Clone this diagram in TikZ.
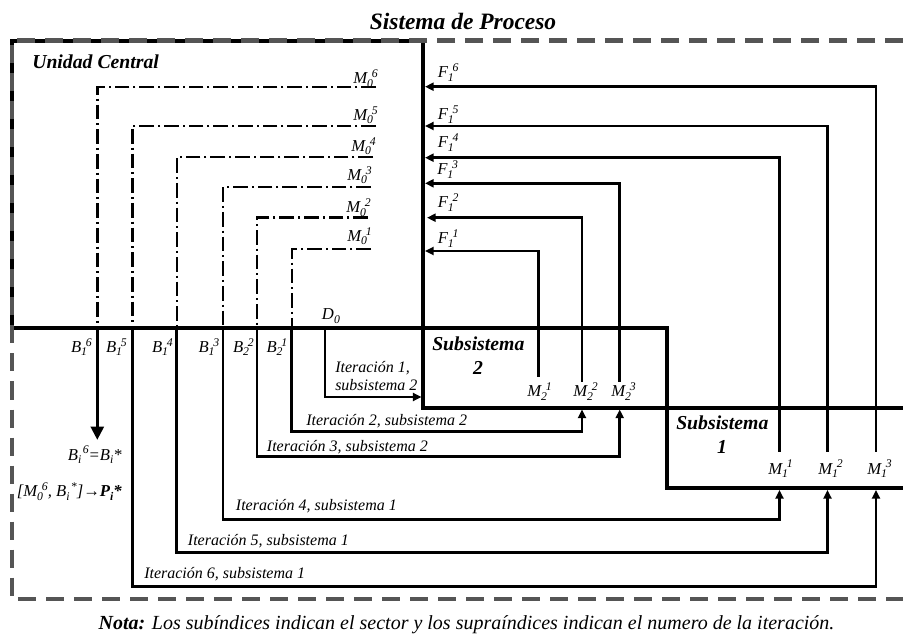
\documentclass[tikz,border=0pt]{standalone}
\usepackage{fontspec}
\setmainfont{Liberation Serif}
\usetikzlibrary{arrows.meta}
\definecolor{boundgray}{HTML}{555555}
% small script size for sub- and superscripts
\newcommand{\scrfont}{\fontsize{8.8pt}{9pt}\selectfont}
% stacked subscript / superscript
\newcommand{\ix}[2]{\rlap{\raisebox{-0.45ex}{\scrfont #1}}\kern0.28em\raisebox{0.8ex}{\scrfont #2}}
% subscript only
\newcommand{\lo}[1]{\raisebox{-0.45ex}{\scrfont #1}}

\begin{document}
\begin{tikzpicture}[x=0.75pt,y=-0.75pt,
  lbl/.style={inner sep=0pt,font=\fontsize{12.5pt}{14pt}\selectfont\itshape},
  itlbl/.style={inner sep=0pt,font=\fontsize{12pt}{14pt}\selectfont\itshape},
  hdr/.style={inner sep=0pt,font=\fontsize{14.8pt}{17pt}\selectfont\bfseries\itshape},
  wall/.style={line width=3pt},
  flow/.style={line width=2pt},
  mline/.style={line width=1.8pt,dash pattern=on 11pt off 3pt on 1.5pt off 3pt},
  sysbound/.style={draw=boundgray,line width=3.2pt,dash pattern=on 13.5pt off 7.5pt},
  flowtip/.style={-{Triangle[length=6.5pt,width=6pt]}},
  bigflowtip/.style={-{Triangle[length=10pt,width=9.5pt]}},
]
\path[use as bounding box] (0,0) rectangle (903,634);

% ---------- box corners ----------
\coordinate (ucTL) at (12,41.5);
\coordinate (ucTR) at (423,41.5);
\coordinate (ucBL) at (12,328);
\coordinate (s2TR) at (666.7,328);
\coordinate (s2BR) at (666.7,488);
\coordinate (s1BR) at (903,488);
\coordinate (s2BL) at (423,408);
\coordinate (s1TR) at (903,408);

% Unidad Central and the two subsystems
\draw[wall] (ucBL) -- (ucTL) -- (ucTR);
\draw[wall] (ucBL) -- (s2TR) -- (s2BR) -- (s1BR);
\draw[wall] (ucTR) -- (s2BL) -- (s1TR);

% Process system boundary
\coordinate (sbTR) at (903,40.5);
\coordinate (sbTL) at (12,40.5);
\coordinate (sbBL) at (12,599.3);
\coordinate (sbBR) at (903,599.3);
\draw[sysbound] (sbTR) -- (sbTL) -- (sbBL) -- (sbBR);

% ---------- master variables M0^k (dash-dot) ----------
\foreach \k/\x/\y/\r in {6/97.3/87.3/376, 5/132.3/126/376, 4/176.7/157.3/373,
                         3/223/187.3/371, 2/257/217.7/368, 1/291.7/249.3/371}{
  \coordinate (m0e\k) at (\r,\y);
  \coordinate (m0c\k) at (\x,\y);
  \coordinate (bt\k) at (\x,328);
  \draw[mline] (m0e\k) -- (m0c\k) -- (bt\k);
}

% ---------- iterations going to the subsystems ----------
\coordinate (d0) at (325,328);
\coordinate (s2in) at (421.5,397);
\draw[flow,flowtip] (d0) |- (s2in);

\coordinate (m22in) at (582,409.5);
\coordinate (m23in) at (619.7,409.5);
\coordinate (m11in) at (779.5,490);
\coordinate (m12in) at (827.5,490);
\coordinate (m13in) at (876,490);
\coordinate (it2k) at (582,431.7);
\coordinate (it3k) at (619.7,456.7);
\coordinate (it4k) at (779.5,519.3);
\coordinate (it5k) at (827.5,552.3);
\coordinate (it6k) at (876,586.7);
\draw[flow,flowtip] (bt1) |- (it2k) -- (m22in);
\draw[flow,flowtip] (bt2) |- (it3k) -- (m23in);
\draw[flow,flowtip] (bt3) |- (it4k) -- (m11in);
\draw[flow,flowtip] (bt4) |- (it5k) -- (m12in);
\draw[flow,flowtip] (bt5) |- (it6k) -- (m13in);

% final result
\coordinate (bstar) at (97.3,440);
\draw[line width=2.5pt,bigflowtip] (bt6) -- (bstar);

% ---------- feedback F1^k back to the central unit ----------
\coordinate (m21top) at (538.3,377);
\coordinate (m22top) at (582,382);
\coordinate (m23top) at (619.7,382);
\coordinate (m11top) at (779.5,451.7);
\coordinate (m12top) at (827.5,451.7);
\coordinate (m13top) at (876,451.7);
\coordinate (f1in) at (425,251);
\coordinate (f2in) at (427,217.7);
\coordinate (f3in) at (425,183.3);
\coordinate (f4in) at (425,157.7);
\coordinate (f5in) at (425,126);
\coordinate (f6in) at (425,86.7);
\draw[flow,flowtip] (m21top) |- (f1in);
\draw[flow,flowtip] (m22top) |- (f2in);
\draw[flow,flowtip] (m23top) |- (f3in);
\draw[flow,flowtip] (m11top) |- (f4in);
\draw[flow,flowtip] (m12top) |- (f5in);
\draw[flow,flowtip] (m13top) |- (f6in);

% ---------- titles ----------
\node[inner sep=0pt,anchor=base,font=\fontsize{17.6pt}{20pt}\selectfont\bfseries\itshape]
  (title) at (463,29.5) {Sistema de Proceso};
\node[hdr,anchor=base west] (uc) at (32,69) {Unidad Central};
\node[hdr,anchor=base west] (s2a) at (432,351) {Subsistema};
\node[hdr,anchor=base] (s2b) at (478,375) {2};
\node[hdr,anchor=base west] (s1a) at (676,429.3) {Subsistema};
\node[hdr,anchor=base] (s1b) at (722,453.3) {1};

% ---------- M0 labels ----------
\node[lbl,anchor=base east] (lm06) at (378,84) {M\ix{0}{6}};
\node[lbl,anchor=base east] (lm05) at (378,120.5) {M\ix{0}{5}};
\node[lbl,anchor=base east] (lm04) at (376,151.5) {M\ix{0}{4}};
\node[lbl,anchor=base east] (lm03) at (372,180.5) {M\ix{0}{3}};
\node[lbl,anchor=base east] (lm02) at (371,213) {M\ix{0}{2}};
\node[lbl,anchor=base east] (lm01) at (372,241.5) {M\ix{0}{1}};

% ---------- F labels ----------
\node[lbl,anchor=base west] (lf6) at (437.5,78) {F\ix{1}{6}};
\node[lbl,anchor=base west] (lf5) at (437.5,120) {F\ix{1}{5}};
\node[lbl,anchor=base west] (lf4) at (437.5,148) {F\ix{1}{4}};
\node[lbl,anchor=base west] (lf3) at (437,175) {F\ix{1}{3}};
\node[lbl,anchor=base west] (lf2) at (437.5,208) {F\ix{1}{2}};
\node[lbl,anchor=base west] (lf1) at (437.5,244) {F\ix{1}{1}};

% ---------- B labels ----------
\node[lbl,anchor=base east] (lb16) at (92,352.5) {B\ix{1}{6}};
\node[lbl,anchor=base east] (lb15) at (127,352.5) {B\ix{1}{5}};
\node[lbl,anchor=base east] (lb14) at (173,352.5) {B\ix{1}{4}};
\node[lbl,anchor=base east] (lb13) at (219.5,352.5) {B\ix{1}{3}};
\node[lbl,anchor=base east] (lb22) at (254,352.5) {B\ix{2}{2}};
\node[lbl,anchor=base east] (lb21) at (287.5,352.5) {B\ix{2}{1}};
\node[lbl,anchor=base west] (ld0) at (321.7,320) {D\lo{0}};

% ---------- subsystem variables ----------
\node[lbl,anchor=base west] (lm21) at (527,397) {M\ix{2}{1}};
\node[lbl,anchor=base west] (lm22) at (573,397) {M\ix{2}{2}};
\node[lbl,anchor=base west] (lm23) at (611,397) {M\ix{2}{3}};
\node[lbl,anchor=base west] (lm11) at (768,474) {M\ix{1}{1}};
\node[lbl,anchor=base west] (lm12) at (818,474) {M\ix{1}{2}};
\node[lbl,anchor=base west] (lm13) at (867,474) {M\ix{1}{3}};

% ---------- iteration labels ----------
\node[itlbl,anchor=base west] (it1a) at (335,372.7) {Iteración 1,};
\node[itlbl,anchor=base west] (it1b) at (335,391) {subsistema 2};
\node[itlbl,anchor=base west] (it2) at (306,426) {Iteración 2, subsistema 2};
\node[itlbl,anchor=base west] (it3) at (266.7,451) {Iteración 3, subsistema 2};
\node[itlbl,anchor=base west] (it4) at (235.7,510.7) {Iteración 4, subsistema 1};
\node[itlbl,anchor=base west] (it5) at (187.7,545) {Iteración 5, subsistema 1};
\node[itlbl,anchor=base west] (it6) at (144,578.3) {Iteración 6, subsistema 1};

% ---------- result ----------
\node[lbl,anchor=base east] (res1) at (122,460) {B\ix{i}{6}=B\lo{i}*};
\node[lbl,anchor=base east] (res2) at (122,496.7)
  {[M\ix{0}{6}, B\ix{i}{*}]→\textbf{P\lo{i}*}};

% ---------- note ----------
\node[inner sep=0pt,anchor=base,font=\fontsize{15pt}{17pt}\selectfont\itshape] (nota) at (466.5,629)
  {\textbf{Nota:} Los subíndices indican el sector y los supraíndices indican el numero de la iteración.};
\end{tikzpicture}
\end{document}
